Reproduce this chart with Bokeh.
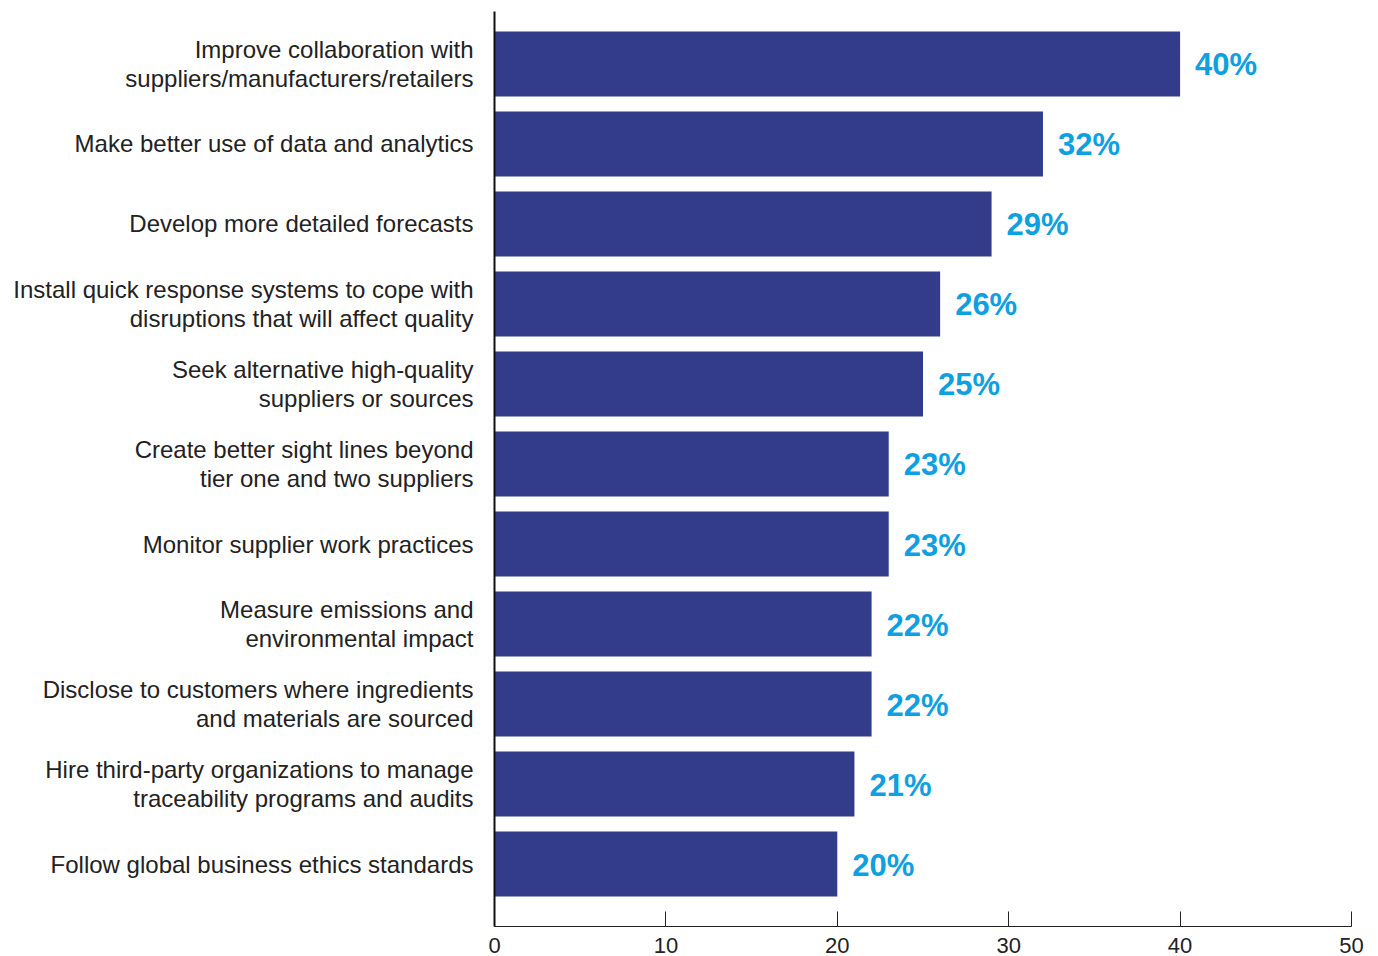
from bokeh.plotting import figure
from bokeh.models import Range1d, FixedTicker, ColumnDataSource
from bokeh.embed import file_html
from bokeh.resources import INLINE
from bokeh.core.properties import value

categories = [
    "Improve collaboration with\nsuppliers/manufacturers/retailers",
    "Make better use of data and analytics",
    "Develop more detailed forecasts",
    "Install quick response systems to cope with\ndisruptions that will affect quality",
    "Seek alternative high-quality\nsuppliers or sources",
    "Create better sight lines beyond\ntier one and two suppliers",
    "Monitor supplier work practices",
    "Measure emissions and\nenvironmental impact",
    "Disclose to customers where ingredients\nand materials are sourced",
    "Hire third-party organizations to manage\ntraceability programs and audits",
    "Follow global business ethics standards",
]
values = [40, 32, 29, 26, 25, 23, 23, 22, 22, 21, 20]
value_labels = ["40%", "32%", "29%", "26%", "25%", "23%", "23%", "22%", "22%", "21%", "20%"]
x_ticks = [0, 10, 20, 30, 40, 50]

n = len(categories)
pos = [n - 1 - i for i in range(n)]

src = ColumnDataSource(dict(pos=pos, val=values, lab=value_labels))

FONT = "Liberation Sans"

p = figure(width=1370, height=956, output_backend="svg", toolbar_location=None,
           x_range=Range1d(0, 50), y_range=Range1d(-0.781, 10.656),
           min_border_left=494, min_border_right=19, min_border_top=11, min_border_bottom=30)

p.hbar(y="pos", right="val", left=0, height=0.8125, source=src,
       fill_color="#323c8a", line_color=None)

p.text(x="val", y="pos", text="lab", source=src, x_offset=15, y_offset=1,
       text_baseline="middle", text_align="left",
       text_font=value(FONT), text_font_style="bold",
       text_font_size="31px", text_color="#0ea0e0")

p.xgrid.visible = False
p.ygrid.visible = False
p.outline_line_color = None

xa = p.xaxis[0]
xa.ticker = FixedTicker(ticks=x_ticks)
xa.minor_tick_line_color = None
xa.major_tick_in = 15
xa.major_tick_out = 0
xa.major_tick_line_color = "#222222"
xa.axis_line_color = "#222222"
xa.axis_line_width = 1.2
xa.major_label_standoff = 11
xa.major_label_text_font = FONT
xa.major_label_text_font_size = "22px"
xa.major_label_text_color = "#222222"

ya = p.yaxis[0]
ya.ticker = FixedTicker(ticks=pos)
ya.major_label_overrides = {pp: c for pp, c in zip(pos, categories)}
ya.minor_tick_line_color = None
ya.major_tick_line_color = None
ya.major_tick_in = 0
ya.major_tick_out = 0
ya.axis_line_color = "#111111"
ya.axis_line_width = 2
ya.major_label_standoff = 21
ya.major_label_text_font = FONT
ya.major_label_text_font_size = "24px"
ya.major_label_text_color = "#222222"
ya.major_label_text_line_height = 1.05

open("out.html", "w").write(file_html(p, INLINE))
